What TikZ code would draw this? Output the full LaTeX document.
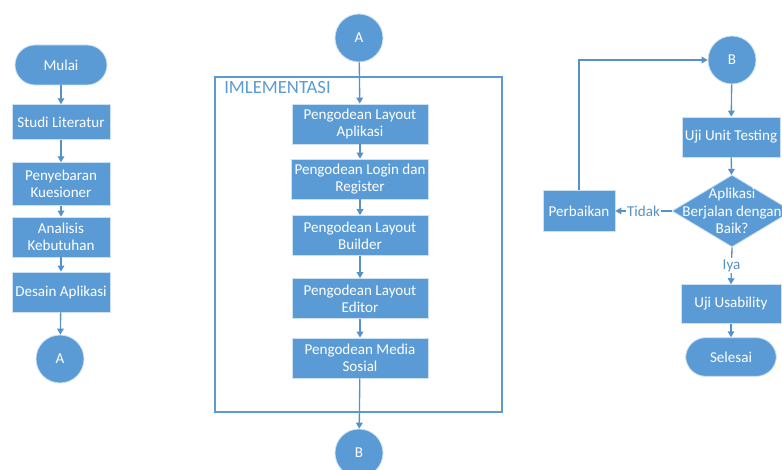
\documentclass[tikz,border=0pt]{standalone}
\usepackage{fontspec}
\setmainfont{Carlito}
\usetikzlibrary{shapes.geometric,arrows.meta}
\definecolor{alurbiru}{RGB}{91,155,213}
\definecolor{garisbiru}{RGB}{86,145,200}

\begin{document}
\begin{tikzpicture}[x=0.75pt,y=-0.75pt,
    proses/.style={rectangle, fill=alurbiru, draw=white!70!alurbiru, line width=0.6pt,
      text=white, align=center, minimum height=30pt, inner sep=2pt,
      font=\fontsize{11.3}{13}\selectfont},
    terminal/.style={proses, rounded corners=15pt},
    konektor/.style={circle, fill=alurbiru, draw=white!70!alurbiru, line width=0.6pt,
      text=white, minimum size=36pt, inner sep=0pt, font=\fontsize{11.3}{13}\selectfont},
    keputusan/.style={diamond, fill=alurbiru, draw=white!70!alurbiru, line width=0.6pt,
      minimum width=90pt, minimum height=54pt, inner sep=0pt},
    panah/.style={draw=garisbiru, line width=1pt, -{Triangle[width=5pt,length=4.5pt]}},
    ketlabel/.style={fill=white, text=garisbiru, inner sep=1pt,
      font=\fontsize{11.3}{13}\selectfont}]
  \useasboundingbox (0,0) rectangle (782,470);

  % Left column
  \node[terminal, minimum width=69pt] (mulai) at (61,65) {Mulai};
  \node[proses, minimum width=73.5pt, minimum height=26pt] (studi) at (61,122) {Studi Literatur};
  \node[proses, minimum width=73.5pt, minimum height=32pt] (sebar) at (61,184) {Penyebaran\\Kuesioner};
  \node[proses, minimum width=73.5pt] (analisis) at (61,237) {Analisis\\Kebutuhan};
  \node[proses, minimum width=73.5pt] (desain) at (61,292) {Desain Aplikasi};
  \node[konektor] (konA1) at (60,359) {A};

  \draw[panah] (mulai) -- (studi);
  \draw[panah] (studi) -- (sebar);
  \draw[panah] (sebar) -- (analisis);
  \draw[panah] (analisis) -- (desain);
  \draw[panah] (desain) -- (konA1);

  % Implementasi frame
  \draw[alurbiru, line width=1pt] (215,77) rectangle (502,412);
  \node[anchor=west, text=alurbiru, inner sep=0pt, font=\fontsize{14}{16}\selectfont] (judulimpl) at (224,88) {IMLEMENTASI};

  \node[konektor] (konA2) at (359,38) {A};
  \node[proses, minimum width=102pt] (layout) at (360,124) {Pengodean Layout\\Aplikasi};
  \node[proses, minimum width=102pt] (login) at (360,179) {Pengodean Login dan\\Register};
  \node[proses, minimum width=102pt] (builder) at (360,235.5) {Pengodean Layout\\Builder};
  \node[proses, minimum width=102pt] (editor) at (360,298.5) {Pengodean Layout\\Editor};
  \node[proses, minimum width=102pt] (media) at (360,358) {Pengodean Media\\Sosial};
  \node[konektor] (konB1) at (359,453) {B};

  \draw[panah] (konA2) -- (layout);
  \draw[panah] (layout) -- (login);
  \draw[panah] (login) -- (builder);
  \draw[panah] (builder) -- (editor);
  \draw[panah] (editor) -- (media);
  \draw[panah] (media) -- (konB1);

  % Right column
  \node[konektor] (konB2) at (732,60) {B};
  \node[proses, minimum width=73.5pt] (unit) at (731,137) {Uji Unit Testing};
  \node[keputusan] (cek) at (732,211) {};
  \node[text=white, align=center, inner sep=0pt, font=\fontsize{11.3}{13}\selectfont] (cektext) at (cek.center) {Aplikasi\\Berjalan dengan\\Baik?};
  \node[proses, minimum width=54pt, minimum height=31pt] (perbaikan) at (579,211) {Perbaikan};
  \node[proses, minimum width=75pt, minimum height=29pt] (usab) at (731,304) {Uji Usability};
  \node[terminal, minimum width=68pt, minimum height=29pt] (selesai) at (731,357) {Selesai};

  \draw[panah] (konB2) -- (unit);
  \draw[panah] (unit) -- (cek);
  \draw[panah] (cek.west) -- node[ketlabel] {Tidak} (perbaikan.east);
  \draw[panah] (cek.south) -- node[ketlabel] {Iya} (usab.north);
  \draw[panah] (perbaikan.north) |- (konB2.west);
  \draw[panah] (usab) -- (selesai);
\end{tikzpicture}
\end{document}
